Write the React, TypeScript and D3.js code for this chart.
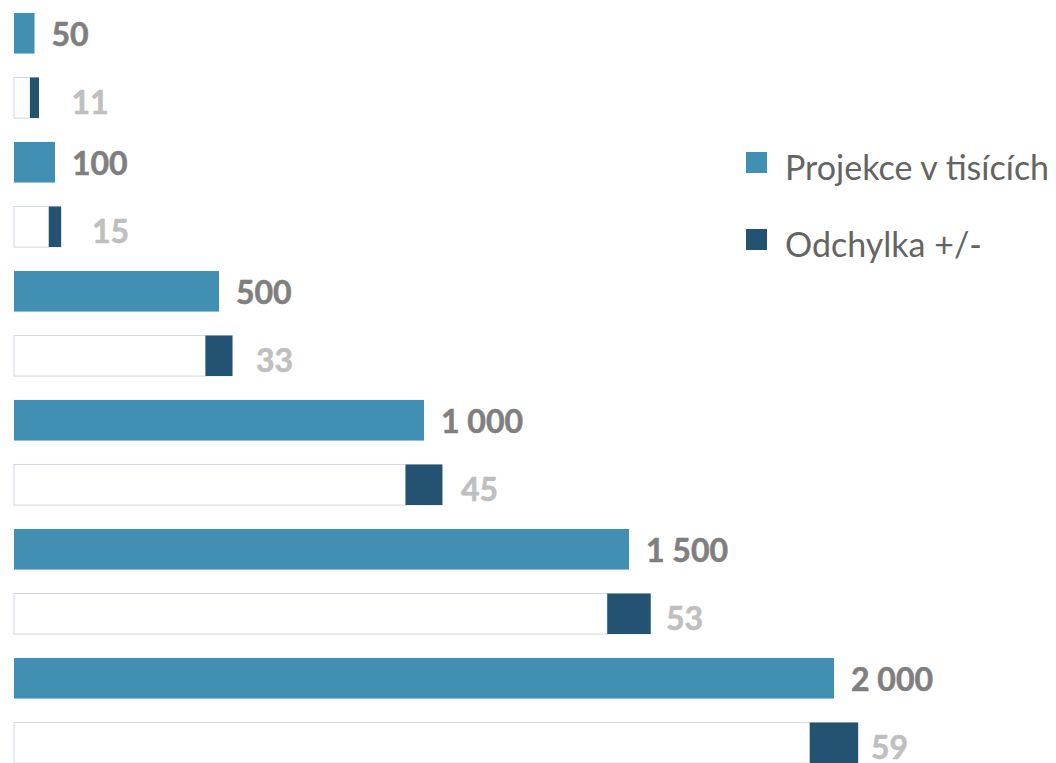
import React from "react";
import * as d3 from "d3";

const projections = [50, 100, 500, 1000, 1500, 2000];
const deviations = [11, 15, 33, 45, 53, 59];
const projectionLabels = ["50", "100", "500", "1 000", "1 500", "2 000"];
const legendItems = ["Projekce v tisících", "Odchylka +/-"];

const W = 1056;
const H = 763;
const LIGHT = "#4190b3";
const DARK = "#245272";
const FONT = "Lato, 'Open Sans', sans-serif";

export default function App() {
  const rowKeys = projections.flatMap((_, i) => [`p${i}`, `d${i}`]);
  const x = d3.scaleLinear().domain([0, 2000]).range([14, 834]);
  const y = d3
    .scaleBand<string>()
    .domain(rowKeys)
    .range([1, 1 + 12 * 64.5])
    .paddingInner(0.37)
    .paddingOuter(0.185);
  const bh = y.bandwidth();

  return (
    <svg
      width={W}
      height={H}
      style={{ position: "absolute", left: 0, top: 0, display: "block" }}
    >
      <rect width={W} height={H} fill="#fff" />
      {projections.map((v, i) => {
        const dev = deviations[i];
        const yp = y(`p${i}`)!;
        const yd = y(`d${i}`)!;
        return (
          <g key={i}>
            <rect x={x(0)} y={yp} width={x(v) - x(0)} height={bh} fill={LIGHT} />
            <text
              x={x(v) + 17}
              y={yp + bh / 2 + 2}
              dy="0.35em"
              fontFamily={FONT}
              fontWeight="bold"
              fontSize={32}
              fill="#7f7f7f"
              stroke="#7f7f7f"
              strokeWidth={0.6}
            >
              {projectionLabels[i]}
            </text>
            <rect
              x={x(0)}
              y={yd}
              width={x(v - dev) - x(0)}
              height={bh}
              fill="#fff"
              stroke="#cfd9e2"
              strokeWidth={1}
            />
            <rect
              x={x(v - dev)}
              y={yd}
              width={x(v + dev) - x(v - dev)}
              height={bh}
              fill={DARK}
            />
            <text
              x={x(v) + 37}
              y={yd + bh / 2 + 5}
              dy="0.35em"
              fontFamily={FONT}
              fontWeight="bold"
              fontSize={32}
              fill="#bfbfbf"
              stroke="#bfbfbf"
              strokeWidth={0.6}
            >
              {String(dev)}
            </text>
          </g>
        );
      })}
      {legendItems.map((t, i) => (
        <g key={t} transform={`translate(746, ${152 + i * 77})`}>
          <rect width={21} height={21} fill={i === 0 ? LIGHT : DARK} />
          <text
            x={39}
            y={28}
            fontFamily={FONT}
            fontSize={34}
            fill="#646464"
          >
            {t}
          </text>
        </g>
      ))}
    </svg>
  );
}
